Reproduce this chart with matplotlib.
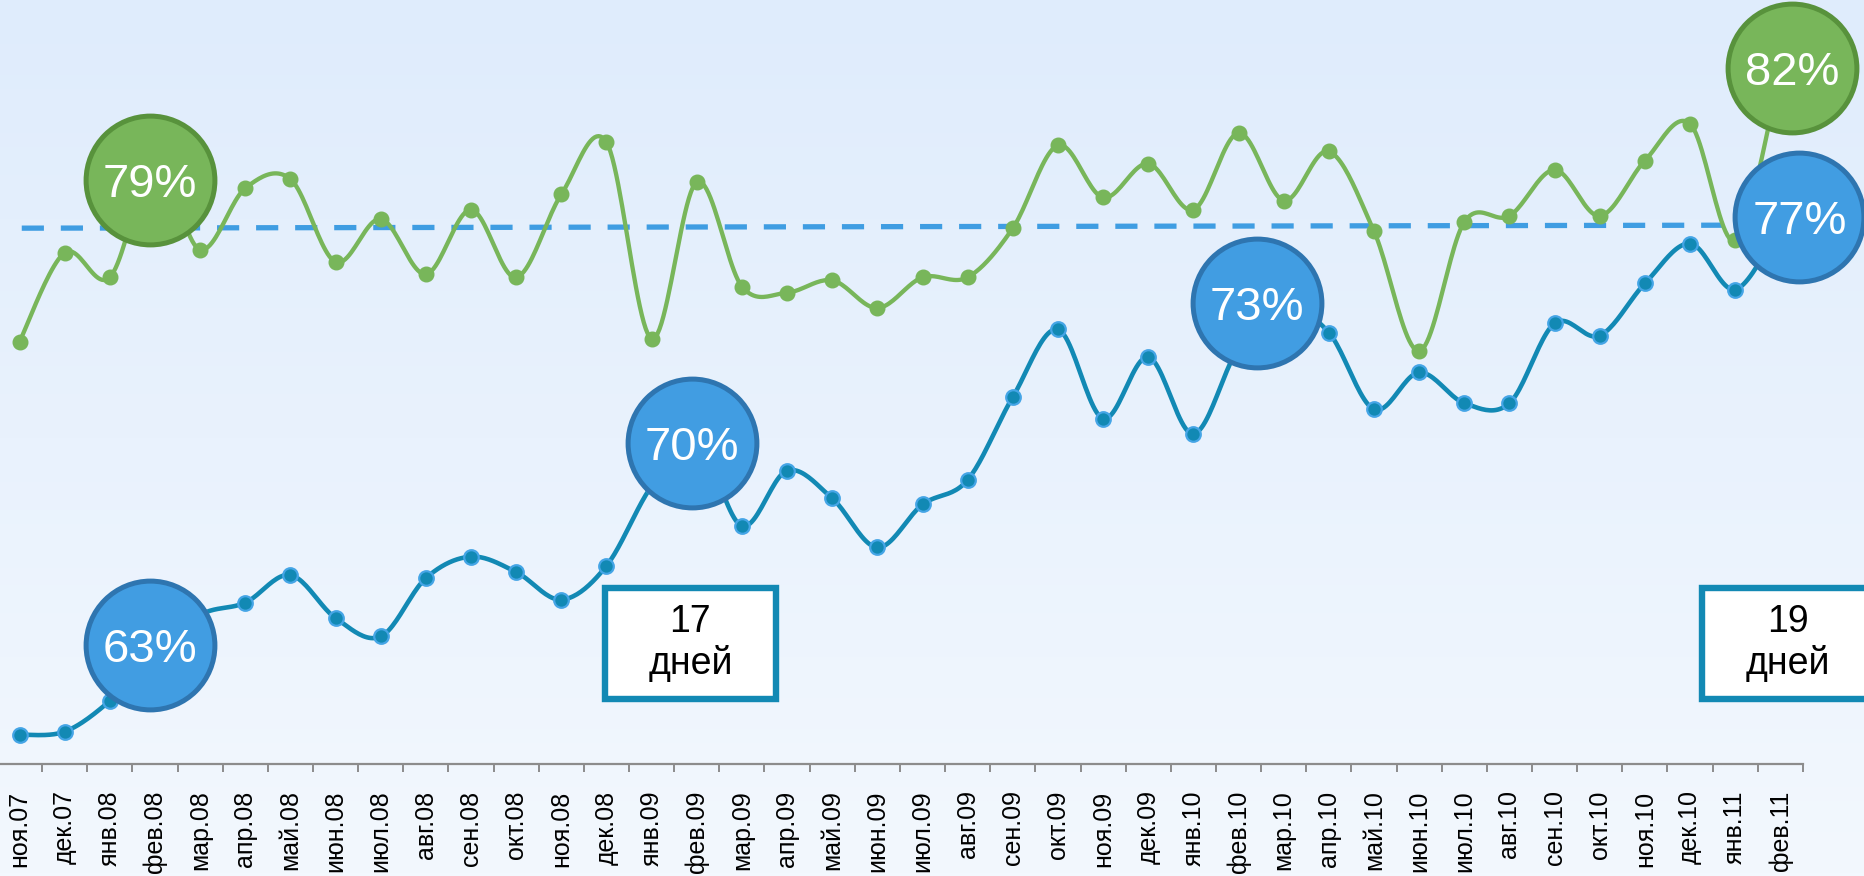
import numpy as np
import matplotlib
matplotlib.use('Agg')
import matplotlib.pyplot as plt
import matplotlib.transforms as mtransforms
from matplotlib.patches import Rectangle

plt.rcParams['font.family'] = ['Liberation Sans', 'DejaVu Sans']

# ---------------- data ----------------
months = ['ноя.07', 'дек.07', 'янв.08', 'фев.08', 'мар.08', 'апр.08', 'май.08', 'июн.08',
          'июл.08', 'авг.08', 'сен.08', 'окт.08', 'ноя.08', 'дек.08', 'янв.09', 'фев.09',
          'мар.09', 'апр.09', 'май.09', 'июн.09', 'июл.09', 'авг.09', 'сен.09', 'окт.09',
          'ноя.09', 'дек.09', 'янв.10', 'фев.10', 'мар.10', 'апр.10', 'май.10', 'июн.10',
          'июл.10', 'авг.10', 'сен.10', 'окт.10', 'ноя.10', 'дек.10', 'янв.11', 'фев.11']

green = [73.2, 76.1, 75.3, 79.0, 76.2, 78.2, 78.5, 75.8, 77.2, 75.4,
         77.5, 75.3, 78.0, 79.7, 73.3, 78.4, 75.0, 74.8, 75.2, 74.3,
         75.3, 75.3, 76.9, 79.6, 77.9, 79.0, 77.5, 80.0, 77.8, 79.4,
         76.8, 72.9, 77.1, 77.3, 78.8, 77.3, 79.1, 80.3, 76.5, 82.0]

blue = [60.4, 60.5, 61.5, 63.0, 64.3, 64.7, 65.6, 64.2, 63.6, 65.5,
        66.2, 65.7, 64.8, 65.9, 68.5, 70.0, 67.2, 69.0, 68.1, 66.5,
        67.9, 68.7, 71.4, 73.6, 70.7, 72.7, 70.2, 73.0, 74.3, 73.5,
        71.0, 72.2, 71.2, 71.2, 73.8, 73.4, 75.1, 76.4, 74.9, 77.0]

avg_line = [76.9, 77.0]          # dashed reference line (start, end)

green_labels = {3: '79%', 39: '82%'}
blue_labels = {3: '63%', 15: '70%', 27: '73%', 39: '77%'}
day_boxes = {15: '17', 39: '19'}
days_word = 'дней'

# ---------------- styles ----------------
C_GREEN = '#78B65A'
C_GREEN_EDGE = '#58923C'
C_BLUE_LINE = '#1289B4'
C_BLUE_MK_EDGE = '#45A5E6'
C_BUBBLE_BLUE = '#419DE2'
C_BUBBLE_BLUE_EDGE = '#2E75B0'
C_DASH = '#3F9DE2'

# bubble offsets in pixels (dx right, dy up)
green_off = {3: (-5, -16), 39: (12, 4)}
blue_off = {3: (-5, 10), 15: (-5, -3), 27: (18, 45), 39: (19, 8)}
# box horizontal offsets in category units
box_off = {15: -0.14, 39: 0.16}


def smooth(xs, ys, n=24):
    """Excel-like smoothed line (cubic Bezier, Catmull-Rom control points)."""
    xs = np.asarray(xs, float)
    ys = np.asarray(ys, float)
    P = np.column_stack([xs, ys])
    Pp = np.vstack([P[0], P, P[-1]])
    out = []
    t = np.linspace(0, 1, n)[:, None]
    for i in range(len(P) - 1):
        p0, p1, p2, p3 = Pp[i], Pp[i + 1], Pp[i + 2], Pp[i + 3]
        b1 = p1 + (p2 - p0) / 6.0
        b2 = p2 - (p3 - p1) / 6.0
        seg = ((1 - t) ** 3) * p1 + 3 * ((1 - t) ** 2) * t * b1 + 3 * (1 - t) * t ** 2 * b2 + t ** 3 * p2
        out.append(seg if i == 0 else seg[1:])
    out = np.vstack(out)
    return out[:, 0], out[:, 1]


W, H, DPI = 1864, 876, 100
fig = plt.figure(figsize=(W / DPI, H / DPI), dpi=DPI)

# background gradient
bg = fig.add_axes([0, 0, 1, 1], zorder=-10)
top = np.array([223, 236, 252]) / 255.0
bot = np.array([243, 248, 254]) / 255.0
g = np.linspace(0, 1, 256)[:, None]
img = top[None, None, :] * (1 - g[:, :, None]) + bot[None, None, :] * g[:, :, None]
img = np.repeat(img, 2, axis=1)
bg.imshow(img, aspect='auto', extent=[0, 1, 0, 1], origin='upper')
bg.axis('off')

# main axes: category i centred at pixel 18.5 + 45.15*i
step = 45.15
x0 = 19.5
left_px = x0 - 0.5 * step
right_px = x0 + 39.5 * step
ax_bottom_px = 764
ax = fig.add_axes([left_px / W, (H - ax_bottom_px) / H, (right_px - left_px) / W, ax_bottom_px / H])
ax.set_facecolor('none')
ax.patch.set_alpha(0)

n = len(months)
x = np.arange(n)

ax.set_xlim(-0.5, n - 0.5)
# pixel y = 2589 - 30.7*v
ax.set_ylim((2589 - 764) / 30.7, 2589 / 30.7)

# dashed reference line
ax.plot([0.05, n - 1], avg_line, color=C_DASH, lw=3.8, dashes=(4.2, 3.2), zorder=3,
        solid_capstyle='butt')

# blue line
sx, sy = smooth(x, blue)
ax.plot(sx, sy, color=C_BLUE_LINE, lw=3.3, zorder=4, solid_capstyle='round')
ax.plot(x, blue, 'o', ms=10.5, mfc=C_BLUE_LINE, mec=C_BLUE_MK_EDGE, mew=1.6, zorder=5)

# green line
sx, sy = smooth(x, green)
ax.plot(sx, sy, color=C_GREEN, lw=3.1, zorder=4, solid_capstyle='round')
ax.plot(x, green, 'o', ms=10.5, mfc=C_GREEN, mec=C_GREEN, mew=1.0, zorder=5)

# bubbles
def bubble(i, v, text, fc, ec, off):
    dx, dy = off
    tr = mtransforms.offset_copy(ax.transData, fig=fig, x=dx * 0.72, y=dy * 0.72, units='points')
    ax.scatter([i], [v], s=8600, c=fc, edgecolors=ec, linewidths=3.6, transform=tr,
               zorder=10, clip_on=False)
    ax.text(i, v, text, transform=tr, ha='center', va='center_baseline', color='white',
            fontsize=34, zorder=11, clip_on=False)

for i, lab in green_labels.items():
    bubble(i, green[i], lab, C_GREEN, C_GREEN_EDGE, green_off[i])
for i, lab in blue_labels.items():
    bubble(i, blue[i], lab, C_BUBBLE_BLUE, C_BUBBLE_BLUE_EDGE, blue_off[i])

# "days" boxes
blend = mtransforms.blended_transform_factory(ax.transData, ax.transAxes)
box_w = 3.8
box_b = (764 - 699) / 764
box_h = 111 / 764
for i, num in day_boxes.items():
    cx = i + box_off[i]
    r = Rectangle((cx - box_w / 2, box_b), box_w, box_h, transform=blend,
                  facecolor='white', edgecolor=C_BLUE_LINE, linewidth=4.6,
                  zorder=6, clip_on=False)
    ax.add_patch(r)
    ax.text(cx, (764 - 622) / 764, num, transform=blend, ha='center', va='center',
            fontsize=27, color='black', zorder=7, clip_on=False)
    ax.text(cx, (764 - 664) / 764, days_word, transform=blend, ha='center', va='center',
            fontsize=27, color='black', zorder=7, clip_on=False)

# axes styling
for s in ['top', 'right', 'left']:
    ax.spines[s].set_visible(False)
ax.spines['bottom'].set_color('#8C8C8C')
ax.spines['bottom'].set_linewidth(1.6)
ax.set_yticks([])
ax.set_xticks(x)
ax.set_xticklabels(months, rotation=90, fontsize=18, va='top', ha='center')
ax.tick_params(axis='x', which='major', length=0, pad=19)
ax.set_xticks(np.arange(0.5, n - 0.5 + 0.01, 1.0), minor=True)
ax.tick_params(axis='x', which='minor', length=6, width=1.4, color='#8C8C8C', direction='out')

fig.savefig('out.png', dpi=DPI)
